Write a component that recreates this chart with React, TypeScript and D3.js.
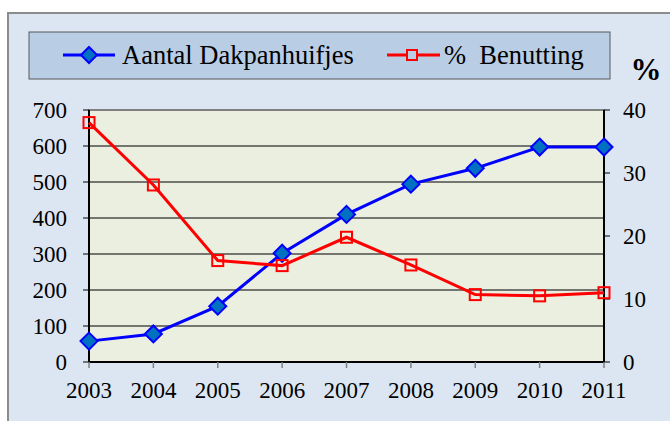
import React from 'react';
import * as d3 from 'd3';

const years = ['2003', '2004', '2005', '2006', '2007', '2008', '2009', '2010', '2011'];
const dakpanhuifjes = [58, 78, 155, 302, 410, 494, 538, 597, 597];
const benutting = [38.0, 28.1, 16.1, 15.3, 19.8, 15.4, 10.7, 10.5, 11.0];
const leftTicks = [0, 100, 200, 300, 400, 500, 600, 700];
const rightTicks = [0, 10, 20, 30, 40];

const FONT = "'Liberation Serif'";

const App = () => {
    const plot = { left: 89, right: 604, top: 110, bottom: 362 };

    const x = d3.scalePoint<string>().domain(years).range([plot.left, plot.right]);
    const yL = d3.scaleLinear().domain([0, 700]).range([plot.bottom, plot.top]);
    const yR = d3.scaleLinear().domain([0, 40]).range([plot.bottom, plot.top]);

    const blueLine = d3.line<number>()
        .x((_, i) => x(years[i]) as number)
        .y(d => yL(d));
    const redLine = d3.line<number>()
        .x((_, i) => x(years[i]) as number)
        .y(d => yR(d));

    const diamond = (cx: number, cy: number, r: number) =>
        `M${cx},${cy - r}L${cx + r},${cy}L${cx},${cy + r}L${cx - r},${cy}Z`;

    const txt = { fontFamily: FONT };

    return (
        <svg width={670} height={421} style={{ position: 'absolute', left: 0, top: 0 }}>
            {/* outer chart area */}
            <rect x={0} y={0} width={670} height={421} fill="#ffffff" />
            <rect x={8} y={13} width={700} height={460} fill="#dce6f2" stroke="#8c8c8c" strokeWidth={2} />

            {/* legend */}
            <rect x={29} y={32} width={581} height={47} fill="#b9cde5" stroke="#595959" strokeWidth={1} />
            <line x1={63} x2={115} y1={55} y2={55} stroke="#0000ff" strokeWidth={3} />
            <path d={diamond(89, 55, 8)} fill="#0070c0" stroke="#0000ff" strokeWidth={2} />
            <text x={122} y={64} fontSize={26.5} fill="#000" style={txt}>Aantal Dakpanhuifjes</text>
            <line x1={387} x2={440} y1={55} y2={55} stroke="#ff0000" strokeWidth={3} />
            <rect x={407} y={50} width={10} height={10} fill="#b9cde5" stroke="#ff0000" strokeWidth={2} />
            <text x={444} y={64} fontSize={26.5} fill="#000" style={{ ...txt, whiteSpace: 'pre' }}>{'%  Benutting'}</text>

            {/* right axis title */}
            <text x={646} y={80} fontSize={31} fontWeight="bold" textAnchor="middle" fill="#000" style={txt}>%</text>

            {/* plot area */}
            <rect x={plot.left} y={plot.top} width={plot.right - plot.left} height={plot.bottom - plot.top}
                fill="#ebefdf" stroke="#808080" strokeWidth={2} />
            {leftTicks.filter(t => t > 0 && t < 700).map(t => (
                <line key={t} x1={plot.left} x2={plot.right} y1={yL(t)} y2={yL(t)} stroke="#4d4d4d" strokeWidth={1.5} />
            ))}

            {/* left axis */}
            <line x1={plot.left} x2={plot.left} y1={plot.top} y2={plot.bottom} stroke="#000" strokeWidth={2} />
            {leftTicks.map(t => (
                <g key={t}>
                    <line x1={plot.left - 6} x2={plot.left} y1={yL(t)} y2={yL(t)} stroke="#000" strokeWidth={1} />
                    <text x={67} y={yL(t) + 8} fontSize={23} textAnchor="end" fill="#000" style={txt}>{t}</text>
                </g>
            ))}

            {/* right axis */}
            <line x1={plot.right} x2={plot.right} y1={plot.top} y2={plot.bottom} stroke="#000" strokeWidth={2} />
            {rightTicks.map(t => (
                <g key={t}>
                    <line x1={plot.right} x2={plot.right + 6} y1={yR(t)} y2={yR(t)} stroke="#000" strokeWidth={1} />
                    <text x={623} y={yR(t) + 8} fontSize={23} fill="#000" style={txt}>{t}</text>
                </g>
            ))}

            {/* bottom axis */}
            <line x1={plot.left} x2={plot.right} y1={plot.bottom} y2={plot.bottom} stroke="#000" strokeWidth={2} />
            {years.map(yr => (
                <g key={yr}>
                    <line x1={x(yr)} x2={x(yr)} y1={plot.bottom} y2={plot.bottom + 6} stroke="#808080" strokeWidth={1.5} />
                    <text x={x(yr)} y={398} fontSize={23} textAnchor="middle" fill="#000" style={txt}>{yr}</text>
                </g>
            ))}

            {/* series: Aantal Dakpanhuifjes */}
            <path d={blueLine(dakpanhuifjes) || ''} fill="none" stroke="#0000ff" strokeWidth={3} />
            {dakpanhuifjes.map((v, i) => (
                <path key={i} d={diamond(x(years[i]) as number, yL(v), 8.5)} fill="#0070c0" stroke="#0000ff" strokeWidth={2} />
            ))}

            {/* series: % Benutting */}
            <path d={redLine(benutting) || ''} fill="none" stroke="#ff0000" strokeWidth={3} />
            {benutting.map((v, i) => (
                <rect key={i} x={(x(years[i]) as number) - 5.5} y={yR(v) - 5.5} width={11} height={11}
                    fill="none" stroke="#ff0000" strokeWidth={2} />
            ))}
        </svg>
    );
};

export default App;
